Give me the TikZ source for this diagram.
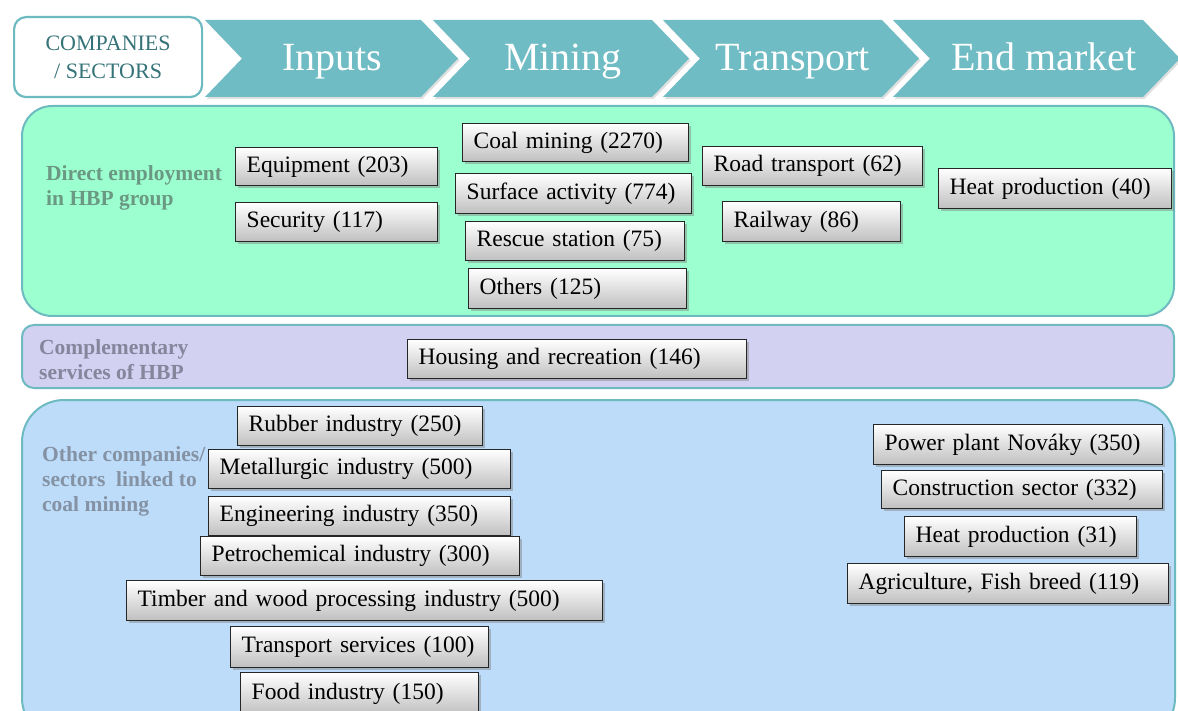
\documentclass[tikz,border=0pt]{standalone}
\usepackage{fontspec}
\setmainfont{Liberation Serif}
\usetikzlibrary{shadows}
\definecolor{chev}{HTML}{6FBCC4}
\definecolor{chevtxt}{HTML}{357378}
\definecolor{pgreen}{HTML}{9CFFCF}
\definecolor{plav}{HTML}{D3D1F1}
\definecolor{pblue}{HTML}{BCDCFA}
\definecolor{pborder}{HTML}{6DBAC1}
\definecolor{lgreen}{HTML}{6A9882}
\definecolor{llav}{HTML}{85859C}
\definecolor{lblue}{HTML}{8592A3}
\newcommand\bfont{\fontsize{23.5}{26}\selectfont}
\newcommand\mybox[6]{%
  \pgfmathsetmacro\bxw{#4-#2-22}%
  \pgfmathsetmacro\bxh{#5-#3}%
  \node[bx, text width=\bxw pt, minimum height=\bxh pt, anchor=north west] (#1) at (#2,#3) {\mbox{#6}};}
\begin{document}
\begin{tikzpicture}[x=1pt,y=-1pt,
  bx/.style={draw=black!85, line width=1.4pt, top color=white, bottom color=black!25,
    inner xsep=11pt, inner ysep=0pt, align=left, font=\bfont,
    drop shadow={shadow xshift=2.5pt, shadow yshift=-2.5pt, opacity=0.45}},
  chevron/.style={fill=chev, drop shadow={shadow xshift=1.5pt, shadow yshift=-2pt, opacity=0.25}},
  chevlabel/.style={text=white, font=\fontsize{40}{42}\selectfont, anchor=base},
  panel/.style={draw=pborder, line width=2pt},
  plabel/.style={font=\bfseries\fontsize{21.5}{25}\selectfont, align=left, anchor=west, inner sep=0pt}]
\useasboundingbox (0,0) rectangle (1178,711);
\clip (0,0) rectangle (1178,711);
% header
\node[draw=pborder, line width=2.2pt, fill=white, rounded corners=12pt,
  minimum width=188pt, minimum height=80pt, anchor=north west,
  text=chevtxt, align=center, font=\fontsize{22}{28}\selectfont] (cs) at (13,16) {COMPANIES\\/ SECTORS};
\path[chevron] (205,20) -- (421,20) -- (458,58.5) -- (421,97) -- (205,97) -- (242,58.5) -- cycle;
\path[chevron] (433,20) -- (652,20) -- (689,58.5) -- (652,97) -- (433,97) -- (470,58.5) -- cycle;
\path[chevron] (663,20) -- (882,20) -- (919,58.5) -- (882,97) -- (663,97) -- (700,58.5) -- cycle;
\path[chevron] (893,20) -- (1143,20) -- (1180,58.5) -- (1143,97) -- (893,97) -- (930,58.5) -- cycle;
\node[chevlabel] (inputs) at (332,71) {Inputs};
\node[chevlabel] (mining) at (563,71) {Mining};
\node[chevlabel] (transport) at (793,71) {Transport};
\node[chevlabel] (endmarket) at (1044,71) {End market};
% panels
\draw[panel, fill=pgreen, rounded corners=30pt] (22,106) rectangle (1174,316);
\draw[panel, fill=plav, rounded corners=12pt] (22,325) rectangle (1174,388);
\draw[panel, fill=pblue, rounded corners=42pt] (22,400) rectangle (1175,740);
% panel labels
\node[plabel, text=lgreen] (lab1) at (46,188) {Direct employment\\in HBP group};
\node[plabel, text=llav] (lab2) at (39,360) {Complementary\\services of HBP};
\node[plabel, text=lblue] (lab3) at (42,481) {Other companies/\\sectors\ \ linked to\\coal mining};
% direct employment boxes
\mybox{equip}{235}{147}{437}{185}{Equipment (203)}
\mybox{secur}{235}{202}{437}{241}{Security (117)}
\mybox{coal}{462}{123}{688}{161}{Coal mining (2270)}
\mybox{surf}{455}{173}{691}{213}{Surface activity (774)}
\mybox{rescue}{465}{221}{684}{260}{Rescue station (75)}
\mybox{others}{468}{268}{686}{308}{Others (125)}
\mybox{road}{702}{146}{922}{185}{Road transport (62)}
\mybox{rail}{722}{201}{900}{241}{Railway (86)}
\mybox{heatA}{938}{168}{1171}{208}{Heat production (40)}
% complementary
\mybox{housing}{407}{339}{746}{378}{Housing and recreation (146)}
% other companies
\mybox{rubber}{237}{406}{482}{445}{Rubber industry (250)}
\mybox{metal}{208}{449}{510}{488}{Metallurgic industry (500)}
\mybox{engin}{208}{496}{510}{535}{Engineering industry (350)}
\mybox{petro}{200}{536}{519}{575}{Petrochemical industry (300)}
\mybox{timber}{126}{580}{602}{620}{Timber and wood processing industry (500)}
\mybox{transv}{230}{626}{488}{667}{Transport services (100)}
\mybox{food}{240}{672}{478}{714}{Food industry (150)}
\mybox{power}{873}{424}{1162}{464}{Power plant Nováky (350)}
\mybox{constr}{881}{470}{1162}{508}{Construction sector (332)}
\mybox{heatB}{904}{516}{1136}{556}{Heat production (31)}
\mybox{agri}{847}{563}{1168}{603}{Agriculture, Fish breed (119)}
\end{tikzpicture}
\end{document}
